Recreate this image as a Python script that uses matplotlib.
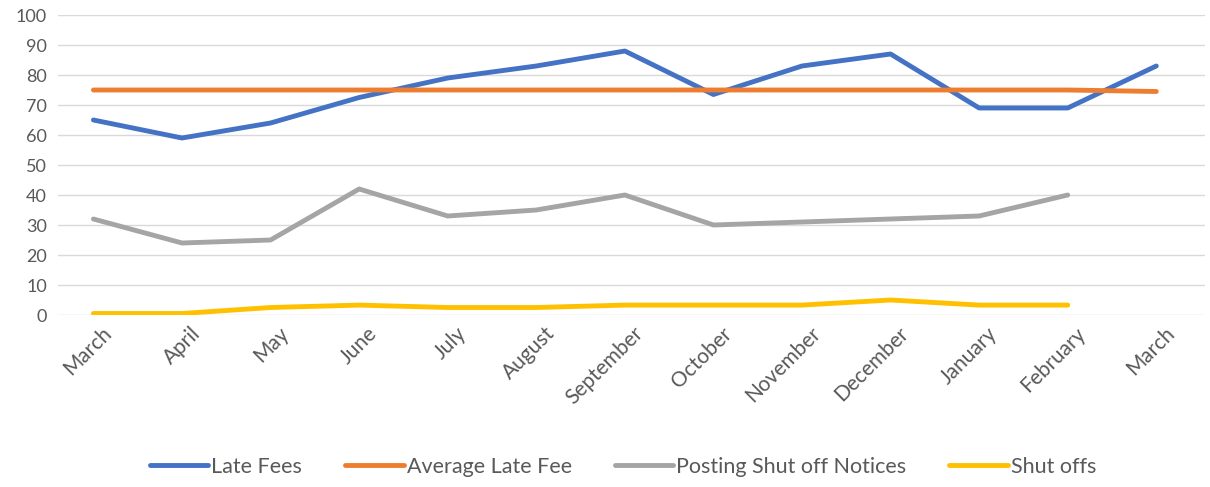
import numpy as np
import matplotlib.pyplot as plt
import matplotlib.transforms as mtransforms

months = ['March', 'April', 'May', 'June', 'July', 'August', 'September',
          'October', 'November', 'December', 'January', 'February', 'March']
late_fees = [65, 59, 64, 72.5, 79, 83, 88, 73.5, 83, 87, 69, 69, 83]
avg_late_fee = [75, 75, 75, 75, 75, 75, 75, 75, 75, 75, 75, 75, 74.5]
shutoff_notices = [32, 24, 25, 42, 33, 35, 40, 30, 31, 32, 33, 40]
shut_offs = [0.5, 0.5, 2.5, 3.3, 2.5, 2.5, 3.3, 3.3, 3.3, 5, 3.3, 3.3]

plt.rcParams['font.family'] = ['Lato', 'DejaVu Sans']

fig = plt.figure(figsize=(12.1, 4.87), dpi=100)
ax = fig.add_axes([58 / 1210, 1 - 315 / 487, 1147 / 1210, 300 / 487])

x = np.arange(len(months))
ax.plot(x, late_fees, color='#4472C4', lw=3.5, label='Late Fees', solid_capstyle='round')
ax.plot(x, avg_late_fee, color='#ED7D31', lw=3.5, label='Average Late Fee', solid_capstyle='round')
ax.plot(x[:len(shutoff_notices)], shutoff_notices, color='#A5A5A5', lw=3.5,
        label='Posting Shut off Notices', solid_capstyle='round')
ax.plot(x[:len(shut_offs)], shut_offs, color='#FFC000', lw=3.5, label='Shut offs',
        solid_capstyle='round')

ax.set_ylim(0, 100)
ax.set_yticks(range(0, 101, 10))
ax.set_xlim(-0.4, 12.55)
ax.set_xticks(x)
ax.set_xticklabels(months, rotation=45, ha='right', rotation_mode='anchor')
ax.tick_params(length=0, labelsize=13, colors='#595959')
ax.tick_params(axis='x', pad=6, labelsize=15)
ax.tick_params(axis='y', pad=8)
ax.grid(axis='y', color='#D9D9D9', lw=1)
ax.set_axisbelow(True)
for s in ax.spines.values():
    s.set_visible(False)

# nudge the slanted month labels a little to the right, like Excel does
shift = mtransforms.ScaledTranslation(8 / 100, 0, fig.dpi_scale_trans)
for lbl in ax.get_xticklabels():
    lbl.set_transform(lbl.get_transform() + shift)

fig.legend(loc='center', bbox_to_anchor=(0.515, 1 - 467 / 487), ncol=4, frameon=False,
           fontsize=15.5, labelcolor='#595959', handlelength=2.7, handletextpad=0.15,
           columnspacing=2.0)

fig.savefig('out.png', dpi=100)
